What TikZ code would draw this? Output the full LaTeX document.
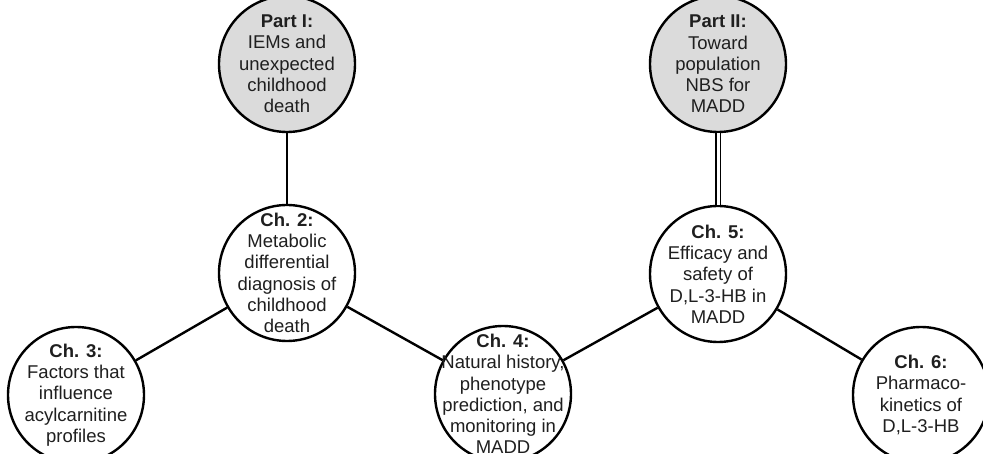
\documentclass[tikz,border=0pt]{standalone}
\usepackage{fontspec}
\setmainfont{Liberation Sans}
\begin{document}
\begin{tikzpicture}[x=1pt,y=-1pt,
  chap/.style={circle, draw=black, line width=2.4pt, fill=white, minimum size=136pt, inner sep=-30pt, align=center, font=\fontsize{18.5}{21.3}\selectfont, text=black!88},
  part/.style={chap, fill=black!14},
  link/.style={line width=2.4pt, draw=black}]
\useasboundingbox (0,0) rectangle (983,454);
\node[part] (p1) at (287,64) {\textbf{Part I:}\\IEMs and\\unexpected\\childhood\\death};
\node[part] (p2) at (718,64) {\textbf{Part II:}\\Toward\\population\\NBS for\\MADD};
\node[chap] (c2) at (287,273) {\textbf{Ch. 2:}\\Metabolic\\differential\\diagnosis of\\childhood\\death};
\node[chap] (c5) at (718,274) {\textbf{Ch. 5:}\\Efficacy and\\safety of\\D,L-3-HB in\\MADD};
\node[chap] (c3) at (76,395) {\textbf{Ch. 3:}\\Factors that\\influence\\acylcarnitine\\profiles};
\node[chap] (c4) at (503,394) {\textbf{Ch. 4:}\\Natural history,\\phenotype\\prediction, and\\monitoring in\\MADD};
\node[chap] (c6) at (921,395) {\textbf{Ch. 6:}\\Pharmaco-\\kinetics of\\D,L-3-HB};
\draw[link] (p1) -- (c2);
\draw[line width=1.6pt, double=white, double distance=3pt] (p2) -- (c5);
\draw[link] (c2) -- (c3);
\draw[link] (c2) -- (c4);
\draw[link] (c4) -- (c5);
\draw[link] (c5) -- (c6);
\end{tikzpicture}
\end{document}
